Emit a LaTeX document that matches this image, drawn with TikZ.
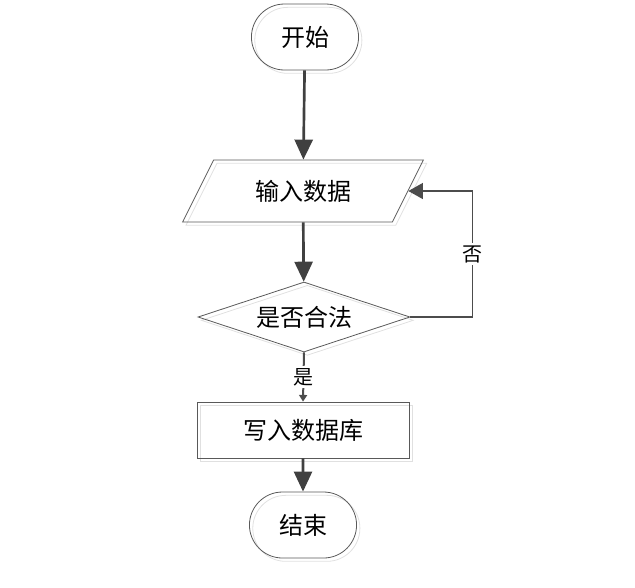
\documentclass[tikz,border=0pt]{standalone}
\usepackage{fontspec}
\newfontfamily\cjk{Noto Sans CJK SC}
\usepackage{tikz}
\usetikzlibrary{shapes.geometric, shapes.misc, arrows.meta, shadows}

\begin{document}
\begin{tikzpicture}[x=0.75pt, y=-0.75pt,
  every node/.style={font=\cjk\fontsize{18pt}{20pt}\selectfont, align=center},
  box/.style={draw=black!65, line width=0.6pt, drop shadow={shadow xshift=2.5pt, shadow yshift=-2.5pt, fill=none, draw=black!12, opacity=1}},
  terminal/.style={box, rounded rectangle, minimum width=87pt, minimum height=49.5pt},
  io/.style={box, trapezium, trapezium left angle=63.4, trapezium right angle=116.6, inner sep=0pt, text width=134pt, text height=30pt, text depth=16.5pt},
  decision/.style={box, diamond, aspect=3, minimum width=159pt, minimum height=52.5pt, inner sep=0pt},
  process/.style={box, rectangle, minimum width=159pt, minimum height=42pt},
  flow/.style={draw=black!75, line width=2pt, -{Triangle[length=15pt, width=13.5pt]}},
  back/.style={draw=black!70, line width=1.1pt, -{Triangle[length=11pt, width=12pt]}},
  yes/.style={draw=black!70, line width=1.5pt, -{Triangle[length=5pt, width=6pt]}},
  tag/.style={fill=white, inner sep=1.5pt, font=\cjk\fontsize{15pt}{17pt}\selectfont}
]
\useasboundingbox (0,0) rectangle (635,587);

% Nodes
\node[terminal] (start) at (305,37) {开始};
\node[io] (input) at (303,191) {输入数据};
\node[decision] (check) at (304,317) {是否合法};
\node[process] (write) at (303,430) {写入数据库};
\node[terminal] (stop) at (303,525) {结束};

% Edges
\draw[flow] (start) -- (input);
\draw[flow] (input) -- (check);
\draw[back] (check.east) -- ++(62,0) |- node[tag, pos=0.25] {否} (input.east);
\draw[yes] (check.south) -- node[tag] {是} (write.north);
\draw[flow] (write) -- (stop);

\end{tikzpicture}
\end{document}
